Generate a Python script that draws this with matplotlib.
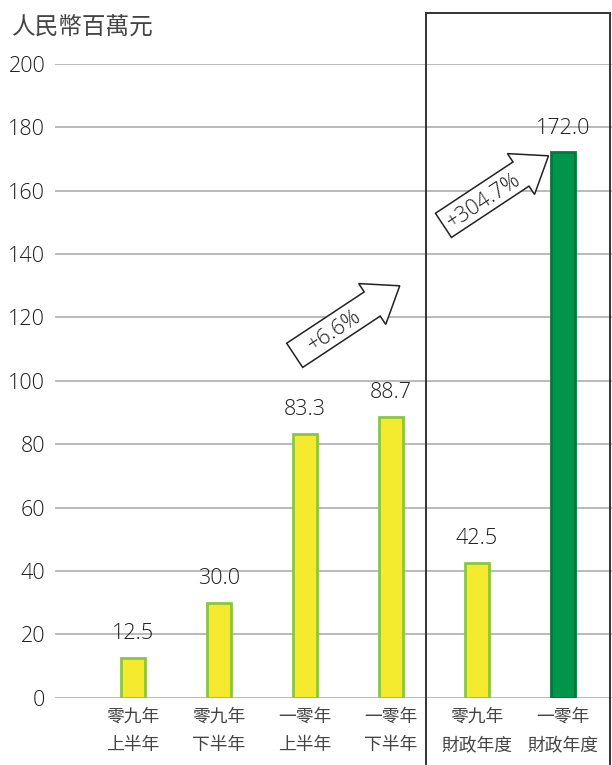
import matplotlib.pyplot as plt
import matplotlib.patches as patches
import matplotlib.transforms as mtransforms

plt.rcParams['font.family'] = ['Open Sans', 'Noto Sans CJK TC', 'DejaVu Sans']
plt.rcParams['font.weight'] = 'light'

# data
categories = ['零九年\n上半年', '零九年\n下半年', '一零年\n上半年', '一零年\n下半年',
              '零九年\n財政年度', '一零年\n財政年度']
values = [12.5, 30.0, 83.3, 88.7, 42.5, 172.0]
value_labels = ['12.5', '30.0', '83.3', '88.7', '42.5', '172.0']
highlight = [False, False, False, False, False, True]
y_ticks = [0, 20, 40, 60, 80, 100, 120, 140, 160, 180, 200]
unit_label = '人民幣百萬元'
growth_labels = ['+6.6%', '+304.7%']
# arrow tail centre, data coords
growth_anchor = [(1.88, 108), (3.61, 149)]

yellow = '#F6EA2E'
yellow_edge = '#8CC63F'
green = '#00954A'
green_edge = '#007A3D'
text_col = '#1E1E1E'
cjk = ['Noto Sans CJK TC', 'DejaVu Sans']

fig = plt.figure(figsize=(6.12, 7.65), dpi=100)
ax = fig.add_axes([55/612, 1-697.7/765, 1-55/612, (697.7-63.7)/765])

x = list(range(len(values)))
for i in x:
  fc = green if highlight[i] else yellow
  ec = green_edge if highlight[i] else yellow_edge
  ax.bar(i, values[i], width=0.27, color=fc, edgecolor=ec, linewidth=2, zorder=3)
  ax.annotate(value_labels[i], (i, values[i]), xytext=(0, 10), textcoords='offset points',
              ha='center', va='bottom', fontsize=15.5, color=text_col, zorder=4)

ax.set_xlim(-0.907, 5.57)
ax.set_ylim(0, 200)
ax.set_yticks(y_ticks)
ax.set_xticks(x)
ax.set_xticklabels(categories, fontsize=12.8, color='#444444', linespacing=1.75,
                   family=cjk)
ax.tick_params(axis='y', length=0, labelsize=15.5, labelcolor=text_col, pad=7)
ax.tick_params(axis='x', length=0, pad=7)
for s in ax.spines.values():
  s.set_visible(False)
ax.grid(axis='y', color='#B4B4B4', linewidth=1.3, zorder=0)
ax.set_axisbelow(True)

fig.text(12/612, 1-28/765, unit_label, fontsize=17, color='#444444',
         va='center', ha='left', family=cjk)

# box round the financial-year bars
box = patches.Rectangle((426/612, -0.05), (609.7-426)/612, 1.05-13.5/765,
                        transform=fig.transFigure, fill=False, edgecolor='#333333',
                        linewidth=1.4, clip_on=False, zorder=5)
fig.add_artist(box)

# block arrows, shape in pixels
angle = 33.5
length, shaft_w, head_w, head_l = 126, 29, 49, 33
shape = [(0, -shaft_w/2), (length-head_l, -shaft_w/2), (length-head_l, -head_w/2),
         (length, 0), (length-head_l, head_w/2), (length-head_l, shaft_w/2), (0, shaft_w/2)]
for label, (ax_x, ax_y) in zip(growth_labels, growth_anchor):
  tr = (mtransforms.Affine2D().rotate_deg(angle).scale(fig.dpi/100.)
        + mtransforms.ScaledTranslation(ax_x, ax_y, ax.transData))
  poly = patches.Polygon(shape, closed=True, facecolor='white', edgecolor='#222222',
                         linewidth=1.1, transform=tr, clip_on=False, zorder=6)
  ax.add_patch(poly)
  tr_txt = (mtransforms.Affine2D().rotate_deg(angle)
            + mtransforms.ScaledTranslation(ax_x, ax_y, ax.transData))
  ax.text(47, -2, label, transform=tr_txt, rotation=angle, rotation_mode='anchor',
          ha='center', va='center', fontsize=15.5, color=text_col, zorder=7, clip_on=False)

fig.savefig('out.png', dpi=100)
